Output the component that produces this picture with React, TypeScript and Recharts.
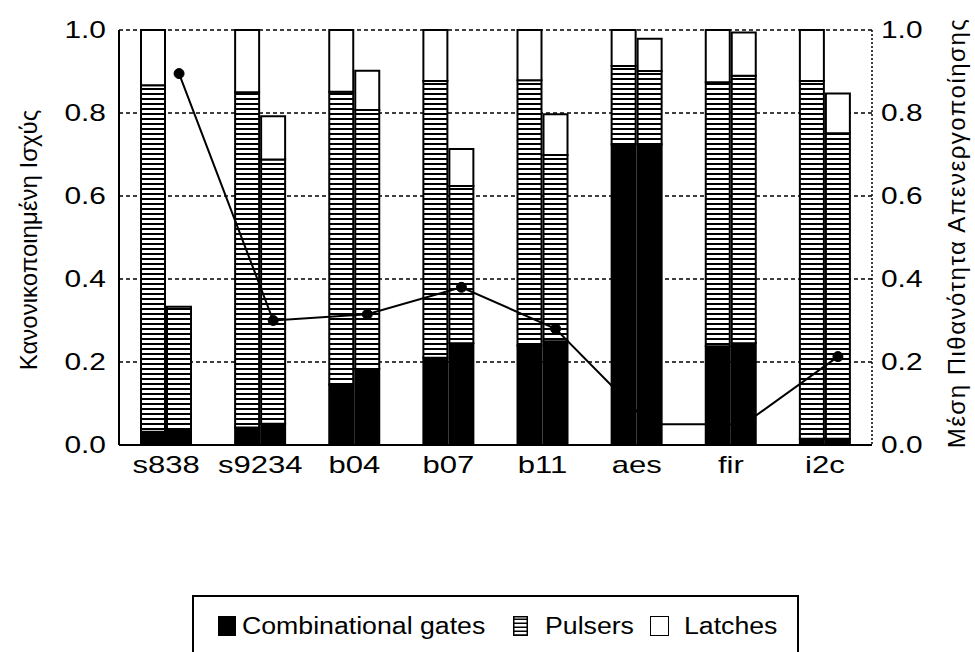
import React from 'react';
import { ComposedChart, Bar, Line, XAxis, YAxis, CartesianGrid } from 'recharts';

// categories (benchmarks)
const categories = ['s838', 's9234', 'b04', 'b07', 'b11', 'aes', 'fir', 'i2c'];

// left bar of each pair (stacked segments)
const combA = [0.032, 0.042, 0.146, 0.21, 0.24, 0.725, 0.238, 0.015];
const pulsersA = [0.835, 0.808, 0.705, 0.667, 0.639, 0.188, 0.636, 0.862];
const latchesA = [0.133, 0.15, 0.149, 0.123, 0.121, 0.087, 0.126, 0.123];

// right bar of each pair (stacked segments)
const combB = [0.036, 0.051, 0.183, 0.245, 0.25, 0.725, 0.245, 0.015];
const pulsersB = [0.297, 0.637, 0.624, 0.379, 0.449, 0.176, 0.645, 0.736];
const latchesB = [0, 0.104, 0.095, 0.089, 0.098, 0.078, 0.104, 0.096];

// line on the right axis
const probability = [0.895, 0.3, 0.315, 0.38, 0.28, 0.05, 0.05, 0.213];

const yTicks = [0, 0.2, 0.4, 0.6, 0.8, 1.0];

const W = 975;
const H = 652;
const PLOT_LEFT = 119;
const PLOT_RIGHT = 872;
const PLOT_TOP = 30;
const PLOT_BOTTOM = 445;
const X_AXIS_H = 60;
const BAR_SIZE = 24;
const BAR_GAP = 2;
const FONT = '"Liberation Sans", Arial, Helvetica, sans-serif';

// the line's points sit on the centre of the right-hand bar of each pair
const bandWidth = (PLOT_RIGHT - PLOT_LEFT) / categories.length;
const lineShift = (BAR_SIZE + BAR_GAP) / 2 / bandWidth;

const data = categories.map((cat, i) => ({
  cat,
  combA: combA[i],
  pulsersA: pulsersA[i],
  latchesA: latchesA[i],
  combB: combB[i],
  pulsersB: pulsersB[i],
  latchesB: latchesB[i],
  prob: probability[i],
  lineX: i + 0.5 + lineShift,
}));

const fmt = (v: number) => v.toFixed(1);

const XTick = ({ x, y, payload }: any) => (
  <g transform={`translate(${x},${y})`}>
    <text transform="scale(1.35,1)" textAnchor="middle" dy="0.71em" fontSize={23} fontFamily={FONT} fill="#000">
      {payload.value}
    </text>
  </g>
);

const LeftTick = ({ x, y, payload }: any) => (
  <g transform={`translate(${x},${y})`}>
    <text transform="scale(1.3,1)" textAnchor="end" dy="0.36em" fontSize={23} fontFamily={FONT} fill="#000">
      {fmt(payload.value)}
    </text>
  </g>
);

const RightTick = ({ x, y, payload }: any) => (
  <g transform={`translate(${x},${y})`}>
    <text transform="scale(1.3,1)" textAnchor="start" dy="0.36em" fontSize={23} fontFamily={FONT} fill="#000">
      {fmt(payload.value)}
    </text>
  </g>
);

const titleStyle: React.CSSProperties = {
  position: 'absolute',
  transform: 'translate(-50%, -50%) rotate(-90deg)',
  whiteSpace: 'nowrap',
  fontFamily: FONT,
  fontSize: 24,
  color: '#000',
  lineHeight: 1,
};

const legendText: React.CSSProperties = {
  position: 'absolute',
  top: 612,
  fontFamily: FONT,
  fontSize: 23,
  lineHeight: '28px',
  whiteSpace: 'nowrap',
  transform: 'scaleX(1.16)',
  transformOrigin: 'left center',
  color: '#000',
};

export default function App() {
  return (
    <div style={{ position: 'absolute', left: 0, top: 0, width: W, height: H, background: '#fff', overflow: 'hidden' }}>
      <ComposedChart
        width={W}
        height={H}
        data={data}
        margin={{ top: PLOT_TOP, right: 0, bottom: H - PLOT_BOTTOM - X_AXIS_H, left: 0 }}
        barGap={BAR_GAP}
        barSize={BAR_SIZE}
      >
        <defs>
          <pattern id="pulserHatch" width="4" height="5" patternUnits="userSpaceOnUse">
            <rect width="4" height="5" fill="#fff" />
            <rect y="3" width="4" height="2" fill="#000" />
          </pattern>
        </defs>
        <CartesianGrid
          xAxisId="cat"
          yAxisId="left"
          vertical={false}
          stroke="#000"
          strokeWidth={1.3}
          strokeDasharray="4 3"
        />
        <XAxis
          xAxisId="cat"
          dataKey="cat"
          height={X_AXIS_H}
          axisLine={{ stroke: '#000', strokeWidth: 2 }}
          tickLine={false}
          tickSize={6}
          tickMargin={6}
          tick={<XTick />}
          interval={0}
        />
        <XAxis xAxisId="num" type="number" dataKey="lineX" domain={[0, categories.length]} hide height={0} />
        <YAxis
          yAxisId="left"
          width={PLOT_LEFT}
          domain={[0, 1]}
          ticks={yTicks}
          axisLine={{ stroke: '#000', strokeWidth: 2 }}
          tickLine={false}
          tickSize={6}
          tickMargin={7}
          tick={<LeftTick />}
        />
        <YAxis
          yAxisId="right"
          orientation="right"
          width={W - PLOT_RIGHT}
          domain={[0, 1]}
          ticks={yTicks}
          axisLine={{ stroke: '#000', strokeWidth: 1.5, strokeDasharray: '2 2' }}
          tickLine={false}
          tickSize={6}
          tickMargin={3}
          tick={<RightTick />}
        />
        <Bar xAxisId="cat" yAxisId="left" dataKey="combA" stackId="a" fill="#000" stroke="#000" strokeWidth={2} isAnimationActive={false} />
        <Bar xAxisId="cat" yAxisId="left" dataKey="pulsersA" stackId="a" fill="url(#pulserHatch)" stroke="#000" strokeWidth={2} isAnimationActive={false} />
        <Bar xAxisId="cat" yAxisId="left" dataKey="latchesA" stackId="a" fill="#fff" stroke="#000" strokeWidth={2} isAnimationActive={false} />
        <Bar xAxisId="cat" yAxisId="left" dataKey="combB" stackId="b" fill="#000" stroke="#000" strokeWidth={2} isAnimationActive={false} />
        <Bar xAxisId="cat" yAxisId="left" dataKey="pulsersB" stackId="b" fill="url(#pulserHatch)" stroke="#000" strokeWidth={2} isAnimationActive={false} />
        <Bar xAxisId="cat" yAxisId="left" dataKey="latchesB" stackId="b" fill="#fff" stroke="#000" strokeWidth={2} isAnimationActive={false} />
        <Line
          xAxisId="num"
          yAxisId="right"
          dataKey="prob"
          type="linear"
          stroke="#000"
          strokeWidth={2}
          dot={{ r: 5, fill: '#000', stroke: '#000', strokeWidth: 1 }}
          isAnimationActive={false}
        />
      </ComposedChart>

      {/* axis titles */}
      <div style={{ ...titleStyle, left: 29, top: 240 }}>Κανονικοποιημένη Ισχύς</div>
      <div style={{ ...titleStyle, left: 957, top: 233, letterSpacing: 1.5 }}>Μέση Πιθανότητα Απενεργοποίησης</div>

      {/* legend */}
      <div
        style={{
          position: 'absolute',
          left: 192,
          top: 595,
          width: 607,
          height: 80,
          border: '2px solid #000',
          boxSizing: 'border-box',
        }}
      />
      <div style={{ position: 'absolute', left: 218, top: 616, width: 18, height: 20, background: '#000' }} />
      <div style={{ ...legendText, left: 242 }}>Combinational gates</div>
      <svg style={{ position: 'absolute', left: 513, top: 616 }} width={15} height={20}>
        <defs>
          <pattern id="legendHatch" width="4" height="4" patternUnits="userSpaceOnUse">
            <rect width="4" height="4" fill="#fff" />
            <rect y="2.5" width="4" height="1.5" fill="#000" />
          </pattern>
        </defs>
        <rect x={0.75} y={0.75} width={13.5} height={18.5} fill="url(#legendHatch)" stroke="#000" strokeWidth={1.5} />
      </svg>
      <div style={{ ...legendText, left: 545 }}>Pulsers</div>
      <div
        style={{
          position: 'absolute',
          left: 650,
          top: 616,
          width: 19,
          height: 20,
          border: '1.5px solid #000',
          boxSizing: 'border-box',
          background: '#fff',
        }}
      />
      <div style={{ ...legendText, left: 684 }}>Latches</div>
    </div>
  );
}
